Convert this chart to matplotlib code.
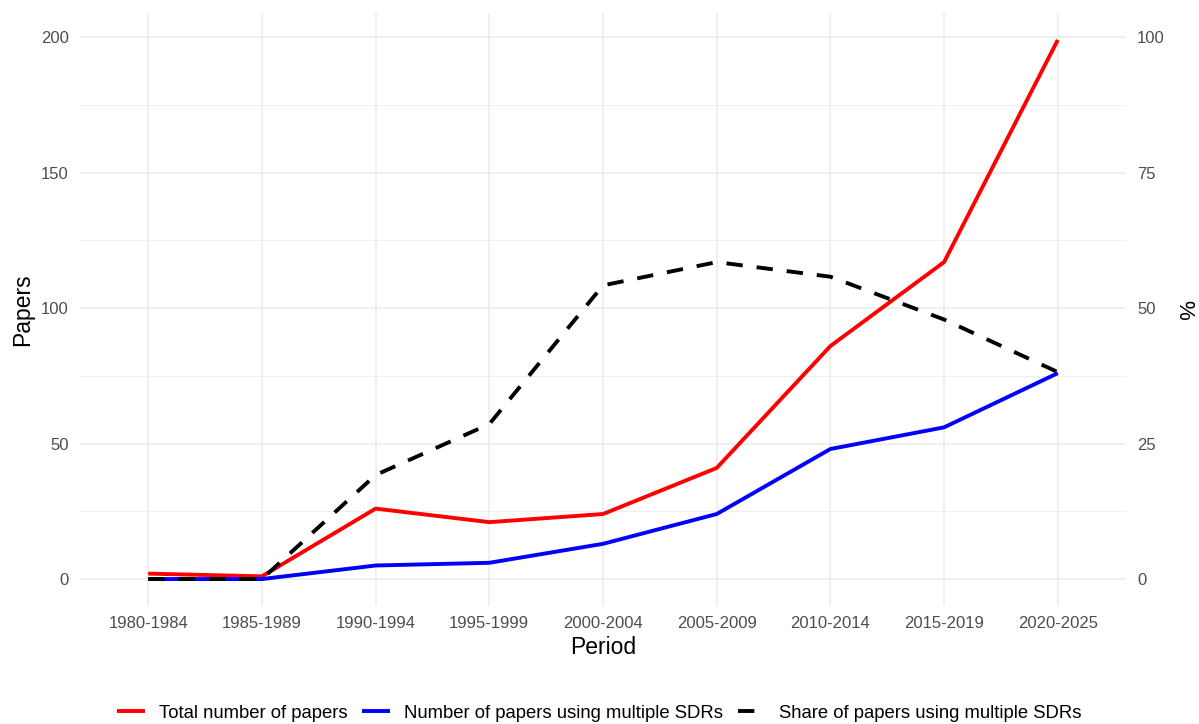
import matplotlib
matplotlib.use("Agg")
import matplotlib.pyplot as plt
import numpy as np

plt.rcParams['font.family'] = ['Liberation Sans', 'DejaVu Sans']

periods = ["1980-1984", "1985-1989", "1990-1994", "1995-1999", "2000-2004",
           "2005-2009", "2010-2014", "2015-2019", "2020-2025"]
total_papers = [2, 1, 26, 21, 24, 41, 86, 117, 199]
multi_sdr_papers = [0, 0, 5, 6, 13, 24, 48, 56, 76]
share_multi = [0, 0, 19.2, 28.6, 54.2, 58.5, 55.8, 47.9, 38.2]

SCALE = 2.0  # secondary axis: % = papers / 2

fig = plt.figure(figsize=(11.99, 7.24), dpi=100)
ax = fig.add_axes([80 / 1199, 118 / 724, (1126 - 80) / 1199, (606 - 13) / 724])

x = np.arange(len(periods))
grid_col = '#EBEBEB'

# grid, ggplot theme_minimal style
for yv in [0, 50, 100, 150, 200]:
    ax.axhline(yv, color=grid_col, lw=1.1, zorder=0)
for yv in [25, 75, 125, 175]:
    ax.axhline(yv, color=grid_col, lw=0.55, zorder=0)
for xv in x:
    ax.axvline(xv, color=grid_col, lw=1.1, zorder=0)

ax.plot(x, total_papers, color='#FF0000', lw=2.8, solid_capstyle='butt', zorder=2,
        label='Total number of papers')
ax.plot(x, multi_sdr_papers, color='#0000FF', lw=2.8, solid_capstyle='butt', zorder=3,
        label='Number of papers using multiple SDRs')
ax.plot(x, np.array(share_multi) * SCALE, color='black', lw=2.8, dashes=(4.2, 3.6),
        dash_capstyle='butt', zorder=4, label='Share of papers using multiple SDRs')

ax.set_xlim(-0.6, len(periods) - 1 + 0.6)
ymax = max(total_papers)
ax.set_ylim(-0.05 * ymax, ymax * 1.05)

ax.set_xticks(x)
ax.set_xticklabels(periods)
ax.set_yticks([0, 50, 100, 150, 200])
ax.tick_params(axis='both', length=0, labelsize=12, labelcolor='#4D4D4D')
ax.tick_params(axis='y', pad=8)
ax.tick_params(axis='x', pad=7)
for s in ax.spines.values():
    s.set_visible(False)

sec = ax.secondary_yaxis('right', functions=(lambda v: v / SCALE, lambda v: v * SCALE))
sec.set_yticks([0, 25, 50, 75, 100])
sec.tick_params(length=0, labelsize=12, labelcolor='#4D4D4D', pad=8)
for s in sec.spines.values():
    s.set_visible(False)
sec.set_ylabel('%', fontsize=16, rotation=-90, labelpad=6, va='bottom')

ax.set_xlabel('Period', fontsize=16.5, labelpad=4)
ax.set_ylabel('Papers', fontsize=16.5, labelpad=5)

handles, labels = ax.get_legend_handles_labels()
fig.legend(handles, labels, loc='center', bbox_to_anchor=(0.5, 1 - 713 / 724), ncol=3,
           frameon=False, fontsize=13.3, handlelength=1.5, handletextpad=0.75,
           columnspacing=0.8)

fig.savefig('out.png', dpi=100, facecolor='white')
